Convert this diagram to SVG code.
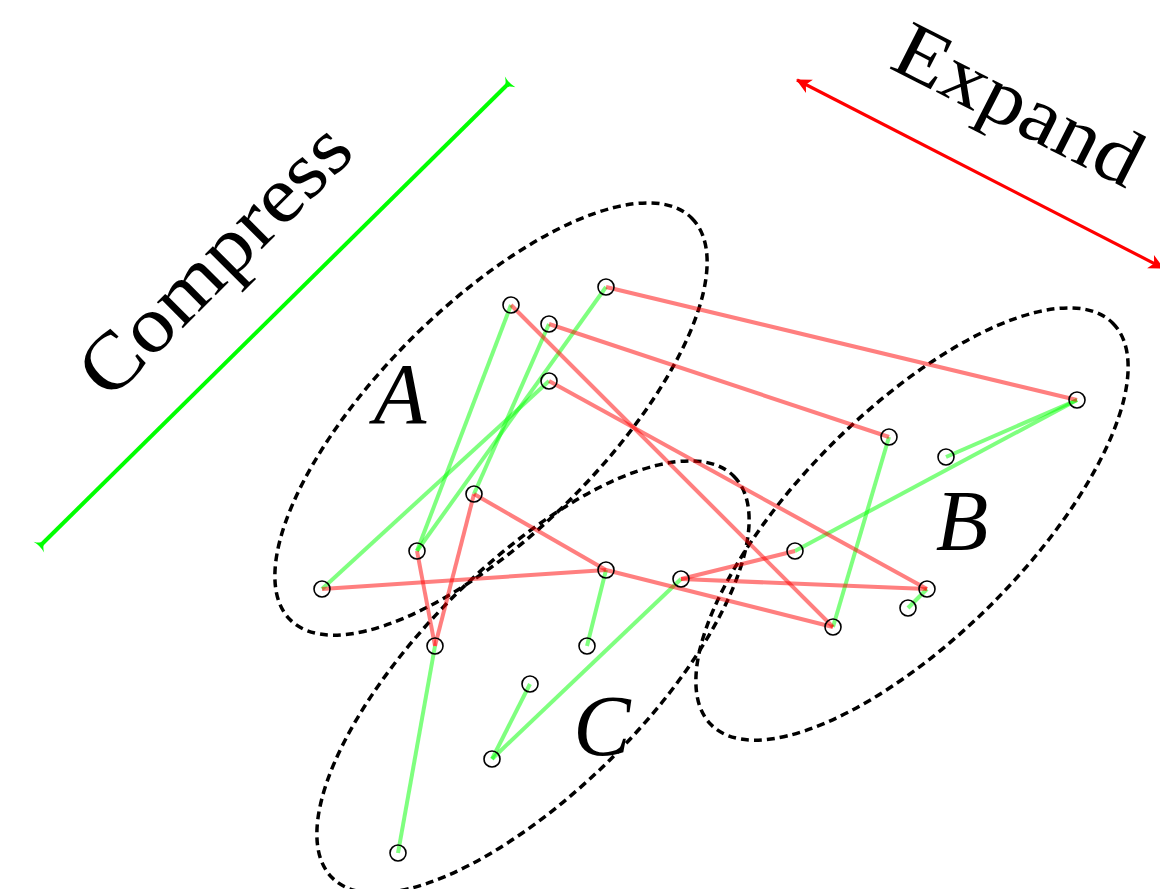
<svg xmlns="http://www.w3.org/2000/svg" width="1160" height="889" viewBox="0 0 1160 889">
<style>
.cl{fill:none;stroke:#000;stroke-width:3.5;stroke-dasharray:8 5}
.r{stroke:#ff0000;stroke-opacity:0.5;stroke-width:4;fill:none}
.g{stroke:#00ff00;stroke-opacity:0.5;stroke-width:4;fill:none}
.n{fill:none;stroke:#000;stroke-width:1.6}
.lbl{font-family:"Liberation Serif","DejaVu Serif",serif;font-style:italic;font-size:86px;fill:#000;text-anchor:middle}
.big{font-family:"Liberation Serif","DejaVu Serif",serif;font-size:80px;fill:#000;text-anchor:middle}
</style>
<defs>
<marker id="inG" markerUnits="userSpaceOnUse" markerWidth="20" markerHeight="20" viewBox="-8 -10 14 20" refX="0" refY="0" orient="auto-start-reverse">
<path d="M-5,0 Q0,-2 3,-7.5 Q1,0 3,7.5 Q0,2 -5,0 Z" fill="#00ff00"/>
</marker>
<marker id="outR" markerUnits="userSpaceOnUse" markerWidth="20" markerHeight="20" viewBox="-16 -10 18 20" refX="0" refY="0" orient="auto-start-reverse">
<path d="M1,0 L-14,-7.5 L-10,0 L-14,7.5 Z" fill="#ff0000"/>
</marker>
</defs>
<rect width="1160" height="889" fill="#fff"/>

<g id="clusters">
<g id="clusterA"><ellipse class="cl" cx="491" cy="419" rx="284" ry="113" transform="rotate(-45 491 419)"/><text class="lbl" x="400" y="423">A</text></g>
<g id="clusterB"><ellipse class="cl" cx="912" cy="524" rx="284" ry="113" transform="rotate(-45 912 524)"/><text class="lbl" x="962" y="550">B</text></g>
<g id="clusterC"><ellipse class="cl" cx="533" cy="677" rx="284" ry="113" transform="rotate(-45 533 677)"/><text class="lbl" x="602" y="755">C</text></g>
</g>

<g id="connectors">
<line class="g" x1="511" y1="305" x2="417" y2="551"/>
<line class="g" x1="606" y1="287" x2="417" y2="551"/>
<line class="g" x1="549" y1="324" x2="474" y2="494"/>
<line class="g" x1="549" y1="381" x2="322" y2="589"/>
<line class="g" x1="606" y1="570" x2="587" y2="646"/>
<line class="g" x1="681" y1="579" x2="492" y2="759"/>
<line class="g" x1="530" y1="684" x2="492" y2="759"/>
<line class="g" x1="435" y1="646" x2="398" y2="853"/>
<line class="g" x1="889" y1="437" x2="833" y2="627"/>
<line class="g" x1="1077" y1="400" x2="946" y2="457"/>
<line class="g" x1="1077" y1="400" x2="795" y2="551"/>
<line class="g" x1="927" y1="589" x2="908" y2="608"/>

<line class="r" x1="606" y1="287" x2="1077" y2="400"/>
<line class="r" x1="549" y1="324" x2="889" y2="437"/>
<line class="r" x1="511" y1="305" x2="833" y2="627"/>
<line class="r" x1="549" y1="381" x2="927" y2="589"/>
<line class="r" x1="474" y1="494" x2="606" y2="570"/>
<line class="r" x1="474" y1="494" x2="435" y2="646"/>
<line class="r" x1="417" y1="551" x2="435" y2="646"/>
<line class="r" x1="322" y1="589" x2="606" y2="570"/>
<line class="r" x1="606" y1="570" x2="833" y2="627"/>
<line class="r" x1="681" y1="579" x2="795" y2="551"/>
<line class="r" x1="681" y1="579" x2="927" y2="589"/>
</g>

<g id="nodes">
<circle id="n1" class="n" cx="511" cy="305" r="8"/>
<circle id="n2" class="n" cx="606" cy="287" r="8"/>
<circle id="n3" class="n" cx="549" cy="324" r="8"/>
<circle id="n4" class="n" cx="549" cy="381" r="8"/>
<circle id="n5" class="n" cx="474" cy="494" r="8"/>
<circle id="n6" class="n" cx="417" cy="551" r="8"/>
<circle id="n7" class="n" cx="322" cy="589" r="8"/>
<circle id="n8" class="n" cx="606" cy="570" r="8"/>
<circle id="n9" class="n" cx="681" cy="579" r="8"/>
<circle id="n10" class="n" cx="587" cy="646" r="8"/>
<circle id="n11" class="n" cx="435" cy="646" r="8"/>
<circle id="n12" class="n" cx="530" cy="684" r="8"/>
<circle id="n13" class="n" cx="492" cy="759" r="8"/>
<circle id="n14" class="n" cx="398" cy="853" r="8"/>
<circle id="n15" class="n" cx="833" cy="627" r="8"/>
<circle id="n16" class="n" cx="889" cy="437" r="8"/>
<circle id="n17" class="n" cx="946" cy="457" r="8"/>
<circle id="n18" class="n" cx="1077" cy="400" r="8"/>
<circle id="n19" class="n" cx="795" cy="551" r="8"/>
<circle id="n20" class="n" cx="927" cy="589" r="8"/>
<circle id="n21" class="n" cx="908" cy="608" r="8"/>
</g>

<g id="compress">
<line x1="41" y1="545" x2="508" y2="84" stroke="#00ff00" stroke-width="4" marker-start="url(#inG)" marker-end="url(#inG)"/>
<text class="big" x="233" y="278" transform="rotate(-45 233 278)" textLength="350" lengthAdjust="spacingAndGlyphs">Compress</text>
</g>
<g id="expand">
<line x1="797" y1="80" x2="1163" y2="268" stroke="#ff0000" stroke-width="3.2" marker-start="url(#outR)" marker-end="url(#outR)"/>
<text class="big" x="1007" y="128" transform="rotate(27 1007 128)" textLength="268" lengthAdjust="spacingAndGlyphs">Expand</text>
</g>
</svg>
